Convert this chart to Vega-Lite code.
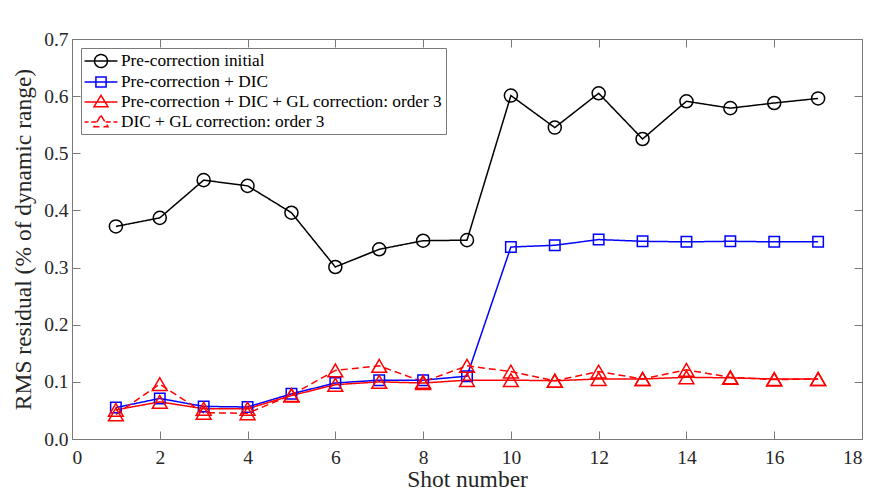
{
  "$schema": "https://vega.github.io/schema/vega-lite/v6.json",
  "width": 790,
  "height": 400,
  "autosize": {"type": "none"},
  "padding": {"left": 72, "top": 39, "right": 25, "bottom": 54},
  "background": "white",
  "config": {
    "font": "Liberation Serif",
    "view": {"stroke": "#7a7a7a", "strokeWidth": 1},
    "axis": {
      "grid": false,
      "domainColor": "#7a7a7a",
      "tickColor": "#7a7a7a",
      "labelColor": "#262626",
      "titleColor": "#262626",
      "labelFont": "Liberation Serif",
      "titleFont": "Liberation Serif",
      "labelFontSize": 19.5,
      "titleFontSize": 23.5,
      "titleFontWeight": "normal",
      "tickSize": -8
    }
  },
  "data": {
    "values": [
      {"shot": 1, "series": "Pre-correction initial", "rms": 0.372},
      {"shot": 2, "series": "Pre-correction initial", "rms": 0.387},
      {"shot": 3, "series": "Pre-correction initial", "rms": 0.453},
      {"shot": 4, "series": "Pre-correction initial", "rms": 0.443},
      {"shot": 5, "series": "Pre-correction initial", "rms": 0.396},
      {"shot": 6, "series": "Pre-correction initial", "rms": 0.301},
      {"shot": 7, "series": "Pre-correction initial", "rms": 0.332},
      {"shot": 8, "series": "Pre-correction initial", "rms": 0.347},
      {"shot": 9, "series": "Pre-correction initial", "rms": 0.348},
      {"shot": 10, "series": "Pre-correction initial", "rms": 0.601},
      {"shot": 11, "series": "Pre-correction initial", "rms": 0.545},
      {"shot": 12, "series": "Pre-correction initial", "rms": 0.605},
      {"shot": 13, "series": "Pre-correction initial", "rms": 0.525},
      {"shot": 14, "series": "Pre-correction initial", "rms": 0.591},
      {"shot": 15, "series": "Pre-correction initial", "rms": 0.579},
      {"shot": 16, "series": "Pre-correction initial", "rms": 0.588},
      {"shot": 17, "series": "Pre-correction initial", "rms": 0.596},
      {"shot": 1, "series": "Pre-correction + DIC", "rms": 0.055},
      {"shot": 2, "series": "Pre-correction + DIC", "rms": 0.071},
      {"shot": 3, "series": "Pre-correction + DIC", "rms": 0.057},
      {"shot": 4, "series": "Pre-correction + DIC", "rms": 0.056},
      {"shot": 5, "series": "Pre-correction + DIC", "rms": 0.079},
      {"shot": 6, "series": "Pre-correction + DIC", "rms": 0.098},
      {"shot": 7, "series": "Pre-correction + DIC", "rms": 0.103},
      {"shot": 8, "series": "Pre-correction + DIC", "rms": 0.103},
      {"shot": 9, "series": "Pre-correction + DIC", "rms": 0.110},
      {"shot": 10, "series": "Pre-correction + DIC", "rms": 0.336},
      {"shot": 11, "series": "Pre-correction + DIC", "rms": 0.339},
      {"shot": 12, "series": "Pre-correction + DIC", "rms": 0.349},
      {"shot": 13, "series": "Pre-correction + DIC", "rms": 0.346},
      {"shot": 14, "series": "Pre-correction + DIC", "rms": 0.345},
      {"shot": 15, "series": "Pre-correction + DIC", "rms": 0.346},
      {"shot": 16, "series": "Pre-correction + DIC", "rms": 0.345},
      {"shot": 17, "series": "Pre-correction + DIC", "rms": 0.345},
      {"shot": 1, "series": "Pre-correction + DIC + GL correction: order 3", "rms": 0.051},
      {"shot": 2, "series": "Pre-correction + DIC + GL correction: order 3", "rms": 0.065},
      {"shot": 3, "series": "Pre-correction + DIC + GL correction: order 3", "rms": 0.053},
      {"shot": 4, "series": "Pre-correction + DIC + GL correction: order 3", "rms": 0.053},
      {"shot": 5, "series": "Pre-correction + DIC + GL correction: order 3", "rms": 0.076},
      {"shot": 6, "series": "Pre-correction + DIC + GL correction: order 3", "rms": 0.095},
      {"shot": 7, "series": "Pre-correction + DIC + GL correction: order 3", "rms": 0.100},
      {"shot": 8, "series": "Pre-correction + DIC + GL correction: order 3", "rms": 0.098},
      {"shot": 9, "series": "Pre-correction + DIC + GL correction: order 3", "rms": 0.103},
      {"shot": 10, "series": "Pre-correction + DIC + GL correction: order 3", "rms": 0.103},
      {"shot": 11, "series": "Pre-correction + DIC + GL correction: order 3", "rms": 0.102},
      {"shot": 12, "series": "Pre-correction + DIC + GL correction: order 3", "rms": 0.105},
      {"shot": 13, "series": "Pre-correction + DIC + GL correction: order 3", "rms": 0.105},
      {"shot": 14, "series": "Pre-correction + DIC + GL correction: order 3", "rms": 0.108},
      {"shot": 15, "series": "Pre-correction + DIC + GL correction: order 3", "rms": 0.107},
      {"shot": 16, "series": "Pre-correction + DIC + GL correction: order 3", "rms": 0.105},
      {"shot": 17, "series": "Pre-correction + DIC + GL correction: order 3", "rms": 0.105},
      {"shot": 1, "series": "DIC + GL correction: order 3", "rms": 0.043},
      {"shot": 2, "series": "DIC + GL correction: order 3", "rms": 0.096},
      {"shot": 3, "series": "DIC + GL correction: order 3", "rms": 0.046},
      {"shot": 4, "series": "DIC + GL correction: order 3", "rms": 0.045},
      {"shot": 5, "series": "DIC + GL correction: order 3", "rms": 0.077},
      {"shot": 6, "series": "DIC + GL correction: order 3", "rms": 0.120},
      {"shot": 7, "series": "DIC + GL correction: order 3", "rms": 0.128},
      {"shot": 8, "series": "DIC + GL correction: order 3", "rms": 0.100},
      {"shot": 9, "series": "DIC + GL correction: order 3", "rms": 0.128},
      {"shot": 10, "series": "DIC + GL correction: order 3", "rms": 0.118},
      {"shot": 11, "series": "DIC + GL correction: order 3", "rms": 0.102},
      {"shot": 12, "series": "DIC + GL correction: order 3", "rms": 0.118},
      {"shot": 13, "series": "DIC + GL correction: order 3", "rms": 0.105},
      {"shot": 14, "series": "DIC + GL correction: order 3", "rms": 0.121},
      {"shot": 15, "series": "DIC + GL correction: order 3", "rms": 0.108},
      {"shot": 16, "series": "DIC + GL correction: order 3", "rms": 0.104},
      {"shot": 17, "series": "DIC + GL correction: order 3", "rms": 0.105}
    ]
  },
  "layer": [
    {
      "mark": {"type": "line", "strokeWidth": 1.5},
      "encoding": {
        "x": {
          "field": "shot", "type": "quantitative",
          "scale": {"domain": [0, 18], "nice": false},
          "axis": {"orient": "bottom", "title": "Shot number", "values": [0, 2, 4, 6, 8, 10, 12, 14, 16, 18], "labelPadding": 17, "titlePadding": 1}
        },
        "y": {
          "field": "rms", "type": "quantitative",
          "scale": {"domain": [0, 0.7], "nice": false},
          "axis": {"orient": "left", "title": "RMS residual (% of dynamic range)", "values": [0, 0.1, 0.2, 0.3, 0.4, 0.5, 0.6, 0.7], "labelPadding": 12, "titlePadding": 8}
        },
        "color": {
          "field": "series", "type": "nominal",
          "scale": {
            "domain": ["Pre-correction initial", "Pre-correction + DIC", "Pre-correction + DIC + GL correction: order 3", "DIC + GL correction: order 3"],
            "range": ["#000000", "#0000ff", "#ff0000", "#ff0000"]
          },
          "legend": {
            "title": null,
            "orient": "top-left",
            "offset": 9,
            "padding": 3,
            "fillColor": "white",
            "strokeColor": "#7a7a7a",
            "labelFont": "Liberation Serif",
            "labelFontSize": 17.3,
            "labelColor": "#000000",
            "labelOffset": 10,
            "labelLimit": 500,
            "symbolType": "M-1,0H1",
            "symbolSize": 342,
            "symbolOffset": 7,
            "symbolStrokeWidth": 1.5,
            "rowPadding": 1,
            "symbolFillColor": "transparent",
            "encode": {
              "symbols": {
                "update": {
                  "shape": {"signal": "datum.value == 'Pre-correction initial' ? 'M-1.78,0H1.78M-0.7,0A0.7,0.7 0 1,0 0.7,0A0.7,0.7 0 1,0 -0.7,0' : datum.value == 'Pre-correction + DIC' ? 'M-1.78,0H1.78M-0.55,-0.55H0.55V0.55H-0.55Z' : datum.value == 'DIC + GL correction: order 3' ? 'M-1.78,0H-1.35M-1.05,0H-0.5M0.5,0H1.05M1.35,0H1.78M0,-0.72L0.76,0.52L-0.76,0.52Z' : 'M-1.78,0H1.78M0,-0.72L0.76,0.52L-0.76,0.52Z'"},
                  "strokeWidth": {"value": 1.5},
                  "fill": {"value": "transparent"},
                  "strokeDash": {"value": [1, 0]}
                }
              }
            }
          }
        },
        "strokeDash": {
          "field": "series", "type": "nominal",
          "scale": {
            "domain": ["Pre-correction initial", "Pre-correction + DIC", "Pre-correction + DIC + GL correction: order 3", "DIC + GL correction: order 3"],
            "range": [[1, 0], [1, 0], [1, 0], [7, 4]]
          },
          "legend": null
        }
      }
    },
    {
      "transform": [{"filter": "datum.series == 'Pre-correction initial'"}],
      "mark": {"type": "point", "filled": false, "strokeWidth": 1.5, "opacity": 1, "shape": "circle", "size": 170},
      "encoding": {
        "x": {
          "field": "shot", "type": "quantitative",
          "axis": {"orient": "top", "title": null, "labels": false, "domain": false, "values": [0, 2, 4, 6, 8, 10, 12, 14, 16, 18]}
        },
        "y": {
          "field": "rms", "type": "quantitative",
          "axis": {"orient": "right", "title": null, "labels": false, "domain": false, "values": [0, 0.1, 0.2, 0.3, 0.4, 0.5, 0.6, 0.7]}
        },
        "color": {"field": "series", "type": "nominal"}
      }
    },
    {
      "transform": [{"filter": "datum.series == 'Pre-correction + DIC'"}],
      "mark": {"type": "point", "filled": false, "strokeWidth": 1.5, "opacity": 1, "shape": "square", "size": 110},
      "encoding": {
        "x": {"field": "shot", "type": "quantitative", "axis": null},
        "y": {"field": "rms", "type": "quantitative", "axis": null},
        "color": {"field": "series", "type": "nominal"}
      }
    },
    {
      "transform": [{"filter": "datum.series != 'Pre-correction initial' && datum.series != 'Pre-correction + DIC'"}],
      "mark": {"type": "point", "filled": false, "strokeWidth": 1.5, "opacity": 1, "shape": "triangle-up", "size": 220},
      "encoding": {
        "x": {"field": "shot", "type": "quantitative", "axis": null},
        "y": {"field": "rms", "type": "quantitative", "axis": null},
        "color": {"field": "series", "type": "nominal"}
      }
    }
  ],
  "resolve": {"axis": {"x": "independent", "y": "independent"}}
}
